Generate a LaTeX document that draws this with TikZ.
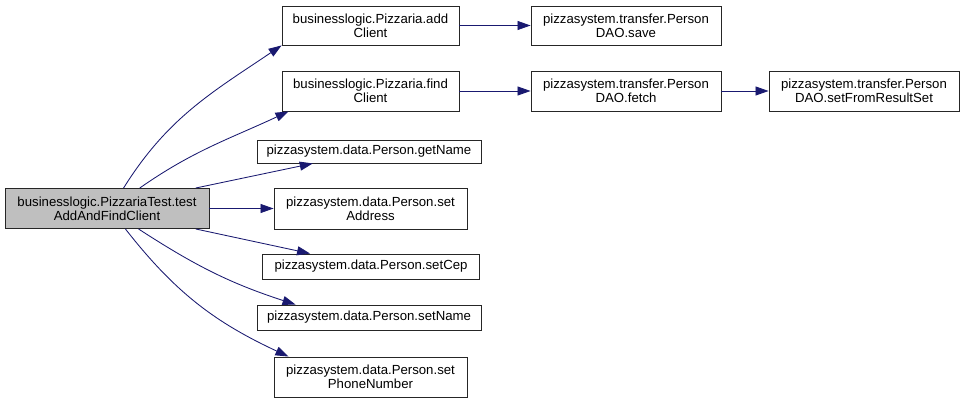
\documentclass[tikz,border=0pt]{standalone}
\usepackage{fontspec}
\setmainfont{Liberation Sans}
\usetikzlibrary{arrows.meta}

\definecolor{edgeblue}{RGB}{25,25,112}
\definecolor{rootgray}{RGB}{191,191,191}
\tikzset{
  fnbox/.style={draw=black!85, fill=white, align=center, inner sep=0pt, line width=0.9pt,
    font=\fontsize{13.2}{13.6}\selectfont},
  call/.style={draw=edgeblue, line width=0.85pt, -{Triangle[length=13pt,width=9pt]}, fill=none},
}

\begin{document}
\begin{tikzpicture}[x=1pt,y=-1pt]
\useasboundingbox (0,0) rectangle (964,403);
% nodes
\node (test) [fnbox, fill=rootgray, minimum width=204pt, minimum height=40pt] at (107,208.5) {businesslogic.PizzariaTest.test\\AddAndFindClient};
\node (add) [fnbox, minimum width=177pt, minimum height=39pt] at (370.5,25.5) {businesslogic.Pizzaria.add\\Client};
\node (find) [fnbox, minimum width=177pt, minimum height=40pt] at (370.5,91) {businesslogic.Pizzaria.find\\Client};
\node (getname) [fnbox, minimum width=224pt, minimum height=23pt] at (369,151.5) {pizzasystem.data.Person.getName};
\node (setaddr) [fnbox, minimum width=193pt, minimum height=41pt] at (370.5,208.5) {pizzasystem.data.Person.set\\Address};
\node (setcep) [fnbox, minimum width=217pt, minimum height=25pt] at (371,266.5) {pizzasystem.data.Person.setCep};
\node (setname) [fnbox, minimum width=224pt, minimum height=25pt] at (369,317.5) {pizzasystem.data.Person.setName};
\node (setphone) [fnbox, minimum width=193pt, minimum height=40pt] at (370.5,377) {pizzasystem.data.Person.set\\PhoneNumber};
\node (save) [fnbox, minimum width=190pt, minimum height=39pt] at (626,25.5) {pizzasystem.transfer.Person\\DAO.save};
\node (fetch) [fnbox, minimum width=190pt, minimum height=40pt] at (626,91) {pizzasystem.transfer.Person\\DAO.fetch};
\node (fromrs) [fnbox, minimum width=190pt, minimum height=40pt] at (864,91) {pizzasystem.transfer.Person\\DAO.setFromResultSet};
% arrows
\draw[call] (test.51) to[out=58, in=214] (add.south west);
\draw[call] (test.32) to[out=35, in=205] (find.194.5);
\draw[call] (test.13) -- (getname.192);
\draw[call] (test.east) -- (setaddr.west);
\draw[call] (test.-13) -- (setcep.168);
\draw[call] (test.-33) to[out=-33, in=162] (setname.170);
\draw[call] (test.-48) to[out=-52, in=155] (setphone.166.7);
\draw[call] (add) -- (save);
\draw[call] (find) -- (fetch);
\draw[call] (fetch) -- (fromrs);
\end{tikzpicture}
\end{document}
